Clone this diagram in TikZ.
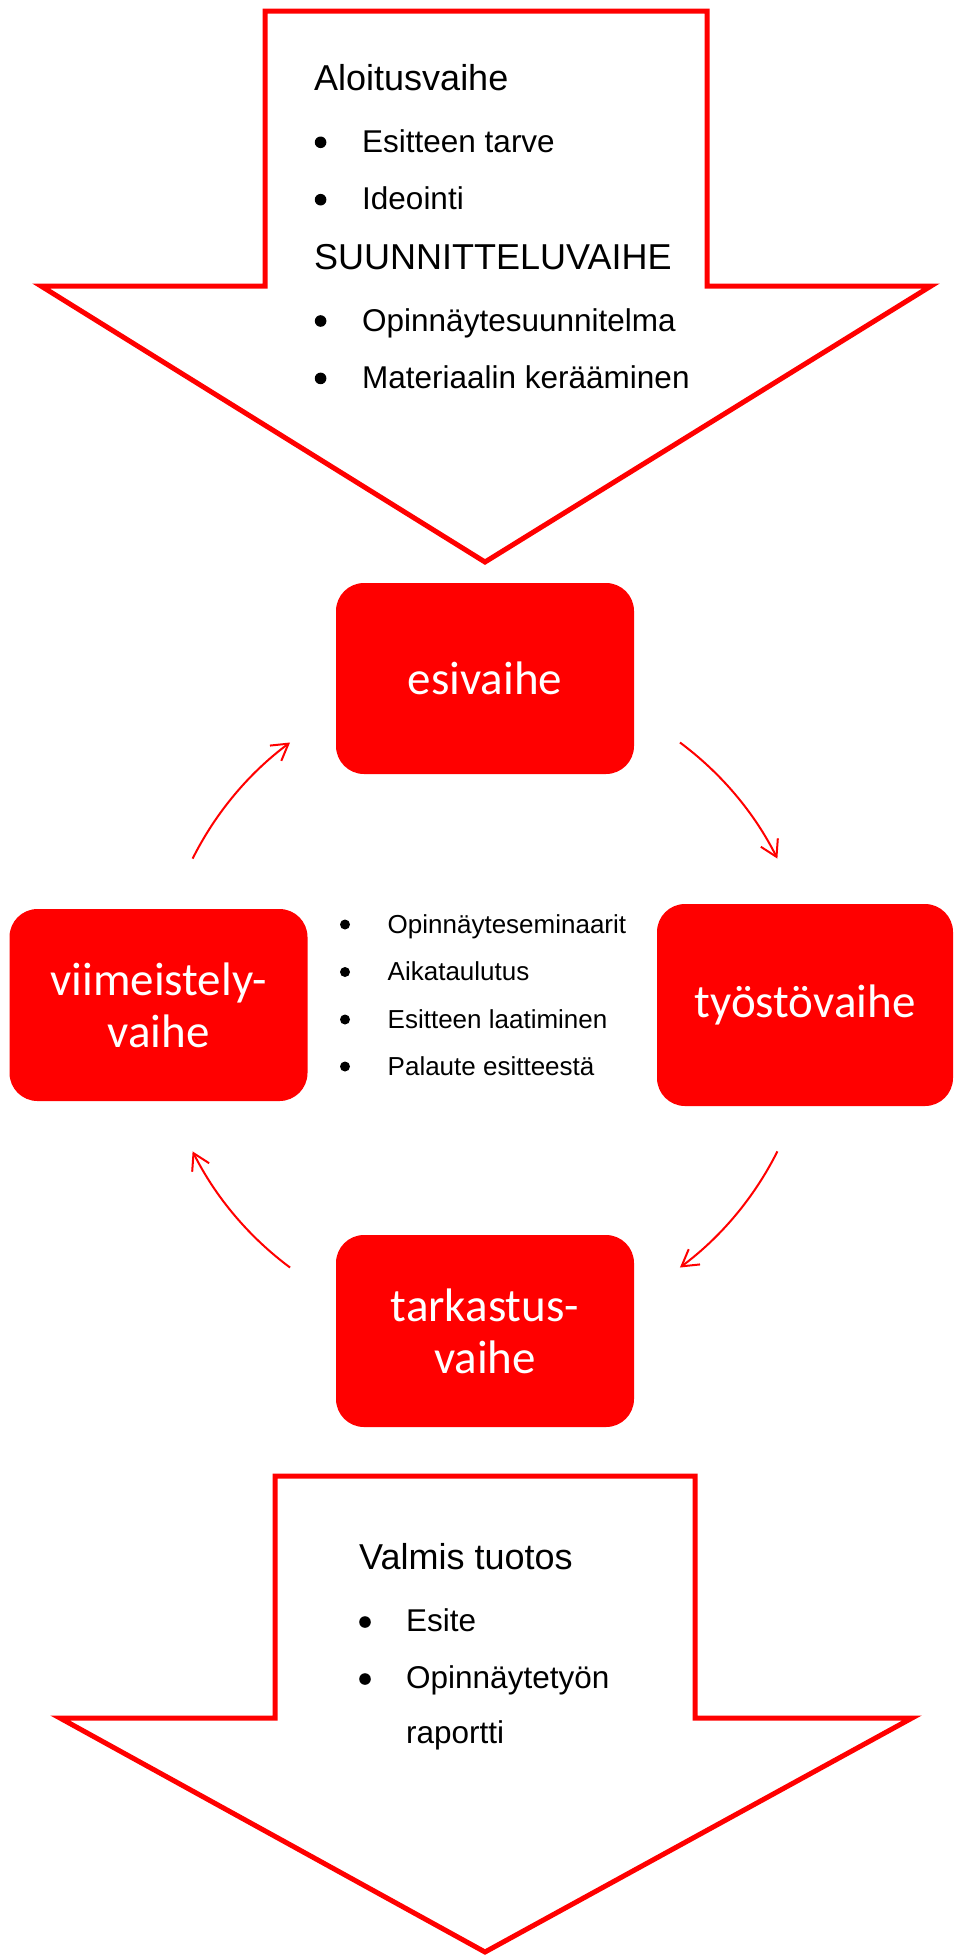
\documentclass[tikz,border=0pt]{standalone}
\usepackage{fontspec}
\setmainfont{Liberation Sans}
\newfontfamily\calibri{Carlito}
\usetikzlibrary{arrows.meta}

\begin{document}
\begin{tikzpicture}[x=1pt, y=-1pt,
  nuoli/.style={draw=red, line width=5pt, fill=white},
  vaihe/.style={fill=red, rounded corners=28pt, text=white, inner sep=0pt,
    align=center, font=\calibri\fontsize{47}{52}\selectfont},
  kierto/.style={draw=red, line width=2pt,
    -{Straight Barb[length=16pt, width=19pt, line width=2pt]}},
  otsikko/.style={anchor=base west, inner sep=0pt, font=\fontsize{36}{43}\selectfont},
  kohta/.style={anchor=base west, inner sep=0pt, font=\fontsize{31.5}{38}\selectfont},
  pieni/.style={anchor=base west, inner sep=0pt, font=\fontsize{26}{31}\selectfont}]
\useasboundingbox (0,0) rectangle (954,1957);

% ylempi nuoli
\draw[nuoli] (265,11)--(707,11)--(707,286)--(931,286)--(485,562)--(41,286)--(265,286)--cycle;
\node[otsikko] (aloitus) at (314,90.7) {Aloitusvaihe};
\node[otsikko] (suunnittelu) at (314,269.8) {SUUNNITTELUVAIHE};
\foreach \y/\t [count=\i] in {152.3/Esitteen tarve, 209.7/Ideointi,
    331/Opinnäytesuunnitelma, 388.4/Materiaalin kerääminen}{
  \fill (320.6,\y-10) circle (5.8pt);
  \node[kohta] (alku\i) at (362,\y) {\t};
}

% vaiheet
\node[vaihe, minimum width=298pt, minimum height=191pt] (esivaihe) at (485,678.5) {esivaihe};
\node[vaihe, minimum width=296pt, minimum height=202pt] (tyosto) at (805,1005) {työstövaihe};
\node[vaihe, minimum width=298pt, minimum height=192pt] (tarkastus) at (485,1331) {tarkastus-\\vaihe};
\node[vaihe, minimum width=298pt, minimum height=192pt] (viimeistely) at (158.5,1005) {viimeistely-\\vaihe};

% kierron nuolet
\coordinate (keski) at (485,1005);
\foreach \a in {53.4,-26.6,-126.6,153.4}
  \draw[kierto] (keski) ++(\a:327pt) arc[start angle=\a, delta angle=-26.8, radius=327pt];

% keskellä
\foreach \y/\t [count=\i] in {933/Opinnäyteseminaarit, 980.5/Aikataulutus,
    1028/Esitteen laatiminen, 1075/Palaute esitteestä}{
  \fill (345,\y-8.5) circle (5pt);
  \node[pieni] (kesk\i) at (387.5,\y) {\t};
}

% alempi nuoli
\draw[nuoli] (275,1476)--(695,1476)--(695,1718)--(912,1718)--(485,1952)--(60,1718)--(275,1718)--cycle;
\node[otsikko] (valmis) at (359,1569.8) {Valmis tuotos};
\fill (365,1622) circle (5.8pt);
\node[kohta] (esite) at (406,1631.6) {Esite};
\fill (365,1679) circle (5.8pt);
\node[kohta] (raportti) at (406,1688.5) {Opinnäytetyön};
\node[kohta] (raportti2) at (406,1743.9) {raportti};
\end{tikzpicture}
\end{document}
